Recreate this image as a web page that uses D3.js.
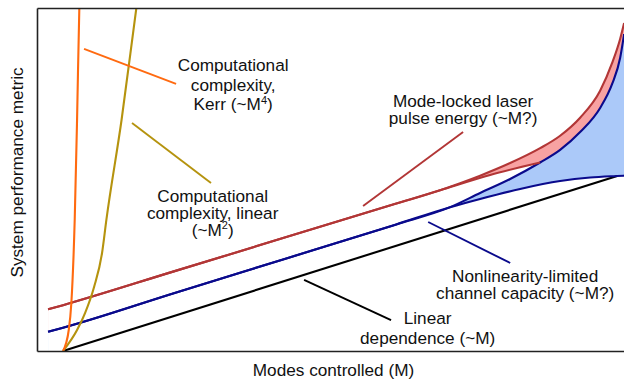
<!DOCTYPE html>
<html>
<head>
<meta charset="utf-8">
<script src="https://cdn.jsdelivr.net/npm/d3@7"></script>
<style>
  html, body { margin: 0; padding: 0; background: #fff; }
  svg { display: block; font-family: "Liberation Sans", Arial, sans-serif; }
</style>
</head>
<body>
<svg id="chart" width="624" height="381"></svg>
<script>
// Each curve is a list of [modes controlled M, system performance metric].
const linearDependence = [[0, 0], [100, 100]];

// Nonlinearity-limited channel capacity: common trunk, then the upper and lower bounds.
const capacityShared = [[-2.7, 11.0], [0, 13.3], [20, 33.0], [40, 52.6], [60, 72.2], [69.86, 82.2]];
const capacityHigh = [[69.86, 82.2], [75.27, 90.3], [80.69, 98.3], [86.1, 107.7], [89.71, 114.9],
                      [93.32, 125.1], [96.93, 138.9], [99.1, 152.6], [100.54, 167.4], [101.26, 181.1]];
const capacityLow = [[69.86, 82.2], [75.27, 86.9], [82.49, 92.6], [89.71, 97.1], [95.13, 99.1],
                     [100, 100], [101.26, 100.2]];

// Mode-locked laser pulse energy: common trunk, then the upper and lower bounds.
const pulseShared = [[-2.7, 23.8], [0, 26.2], [20, 45.5], [40, 64.8], [60, 84.1], [68.05, 91.9]];
const pulseHigh = [[68.05, 91.9], [71.66, 95.9], [75.27, 100.2], [80.69, 107.4], [86.1, 115.9],
                   [89.71, 123.0], [93.32, 133.3], [96.93, 148.7], [99.1, 164.6], [100.54, 178.3],
                   [101.26, 187.4]];
const pulseLow = [[68.05, 91.9], [77.08, 100.6], [86.1, 107.7]];

// Computational complexity curves (they leave the frame at the top).
const complexityKerr = [[0, 0], [1.03, 12], [1.5, 27.4], [2.11, 75.4], [2.53, 132], [2.94, 196], [3.0, 202]];
const complexityLinear = [[0, 0], [2.53, 12], [3.97, 21.7], [5.6, 36.6], [7.04, 56], [7.82, 74.9],
                          [10.56, 132], [13.23, 196], [13.4, 200]];

// Text labels: anchor [M, metric] of the first baseline, line gap in px, lines ("^" marks a superscript).
const labelTexts = [
  ["Computational", "complexity,", "Kerr (~M^4)"],
  ["Computational", "complexity, linear", "(~M^2)"],
  ["Mode-locked laser", "pulse energy (~M?)"],
  ["Nonlinearity-limited", "channel capacity (~M?)"],
  ["Linear", "dependence (~M)"]
];
const labelAnchors = [[30.7, 160], [27.0, 85.3], [72.2, 139.3], [83.4, 39.6], [65.8, 15.4]];
const labelGaps = [19.5, 16.9, 17.0, 16.9, 20];

// Leader lines from each label to its curve, [[M, metric], [M, metric]].
const leaders = [
  [[3.79, 172.6], [20.4, 152.6]],
  [[12.45, 130.3], [26.7, 96.0]],
  [[54.15, 82.9], [72.2, 125.1]],
  [[65.9, 73.7], [80.7, 50.3]],
  [[43.5, 40.6], [59.2, 17.7]]
];

const colors = {
  kerr: "#ff6a10",
  linearCx: "#b5930e",
  pulse: "#b23636",
  capacity: "#0a0a8c",
  linear: "#000000",
  pulseFill: "#f8a2a2",
  capacityFill: "#abc9f9"
};
const leaderColors = [colors.kerr, colors.linearCx, colors.pulse, colors.capacity, colors.linear];

const svg = d3.select("#chart");
const plot = { left: 37, right: 626, top: 8, bottom: 351 };

const x = d3.scaleLinear().domain([-4.7, 101.6]).range([plot.left, plot.right]);
const y = d3.scaleLinear().domain([0, 196]).range([plot.bottom, plot.top]);

svg.append("defs").append("clipPath").attr("id", "plot-clip")
  .append("rect")
  .attr("x", plot.left).attr("y", plot.top)
  .attr("width", plot.right - plot.left).attr("height", plot.bottom - plot.top);

const curve = d3.curveMonotoneX;
const line = d3.line().x(d => x(d[0])).y(d => y(d[1])).curve(curve);
const under = d3.area().x(d => x(d[0])).y0(plot.bottom).y1(d => y(d[1])).curve(curve);

const join = (a, b) => a.concat(b.slice(1));
const pulseHighFull = join(pulseShared, pulseHigh);
const pulseLowFull = join(pulseShared, pulseLow);
const capHighFull = join(capacityShared, capacityHigh);
const capLowFull = join(capacityShared, capacityLow);

const g = svg.append("g").attr("clip-path", "url(#plot-clip)");

// Shaded bands: each layer fills everything under a bound, the next one trims it.
const bands = [
  [pulseHighFull, colors.pulseFill],
  [pulseLowFull, "#ffffff"],
  [capHighFull, colors.capacityFill],
  [capLowFull, "#ffffff"]
];
g.selectAll("path.band").data(bands).join("path")
  .attr("class", "band")
  .attr("d", d => under(d[0]))
  .attr("fill", d => d[1])
  .attr("stroke", "none");

// Curves.
const curves = [
  [linearDependence, colors.linear],
  [capLowFull, colors.capacity],
  [capHighFull, colors.capacity],
  [pulseLowFull, colors.pulse],
  [pulseHighFull, colors.pulse],
  [complexityLinear, colors.linearCx],
  [complexityKerr, colors.kerr]
];
g.selectAll("path.curve").data(curves).join("path")
  .attr("class", "curve")
  .attr("d", d => line(d[0]))
  .attr("fill", "none")
  .attr("stroke", d => d[1])
  .attr("stroke-width", 2.1)
  .attr("stroke-linejoin", "round");

// Leader lines.
svg.selectAll("line.leader").data(leaders).join("line")
  .attr("class", "leader")
  .attr("x1", d => x(d[0][0])).attr("y1", d => y(d[0][1]))
  .attr("x2", d => x(d[1][0])).attr("y2", d => y(d[1][1]))
  .attr("stroke", (d, i) => leaderColors[i])
  .attr("stroke-width", 1.9);

// Frame drawn with tickless axes.
const frame = svg.append("g").attr("class", "frame");
frame.append("g").attr("transform", `translate(0,${plot.bottom})`)
  .call(d3.axisBottom(x).tickValues([]).tickSizeOuter(0));
frame.append("g").attr("transform", `translate(0,${plot.top})`)
  .call(d3.axisTop(x).tickValues([]).tickSizeOuter(0));
frame.append("g").attr("transform", `translate(${plot.left},0)`)
  .call(d3.axisLeft(y).tickValues([]).tickSizeOuter(0));
frame.selectAll(".domain").attr("stroke", "#222").attr("stroke-width", 1.6);

// Labels.
const fontSize = 17.2;
labelTexts.forEach((lines, i) => {
  const t = svg.append("text")
    .attr("text-anchor", "middle")
    .attr("font-size", fontSize)
    .attr("fill", "#111");
  const cx = x(labelAnchors[i][0]);
  const by = y(labelAnchors[i][1]);
  lines.forEach((ln, j) => {
    const parts = ln.split("^");
    const row = t.append("tspan").attr("x", cx).attr("y", by + j * labelGaps[i]);
    if (parts.length === 1) {
      row.text(ln);
    } else {
      const sup = parts[1].charAt(0);
      const rest = parts[1].slice(1);
      row.append("tspan").text(parts[0]);
      row.append("tspan").attr("font-size", 11).attr("dy", -6.5).text(sup);
      row.append("tspan").attr("dy", 6.5).text(rest);
    }
  });
});

// Axis titles.
svg.append("text")
  .attr("x", (plot.left + plot.right) / 2 + 2)
  .attr("y", 376)
  .attr("text-anchor", "middle")
  .attr("font-size", fontSize)
  .attr("fill", "#111")
  .text("Modes controlled (M)");

svg.append("text")
  .attr("transform", "translate(23,172.5) rotate(-90)")
  .attr("text-anchor", "middle")
  .attr("font-size", fontSize)
  .attr("fill", "#111")
  .text("System performance metric");
</script>
</body>
</html>
